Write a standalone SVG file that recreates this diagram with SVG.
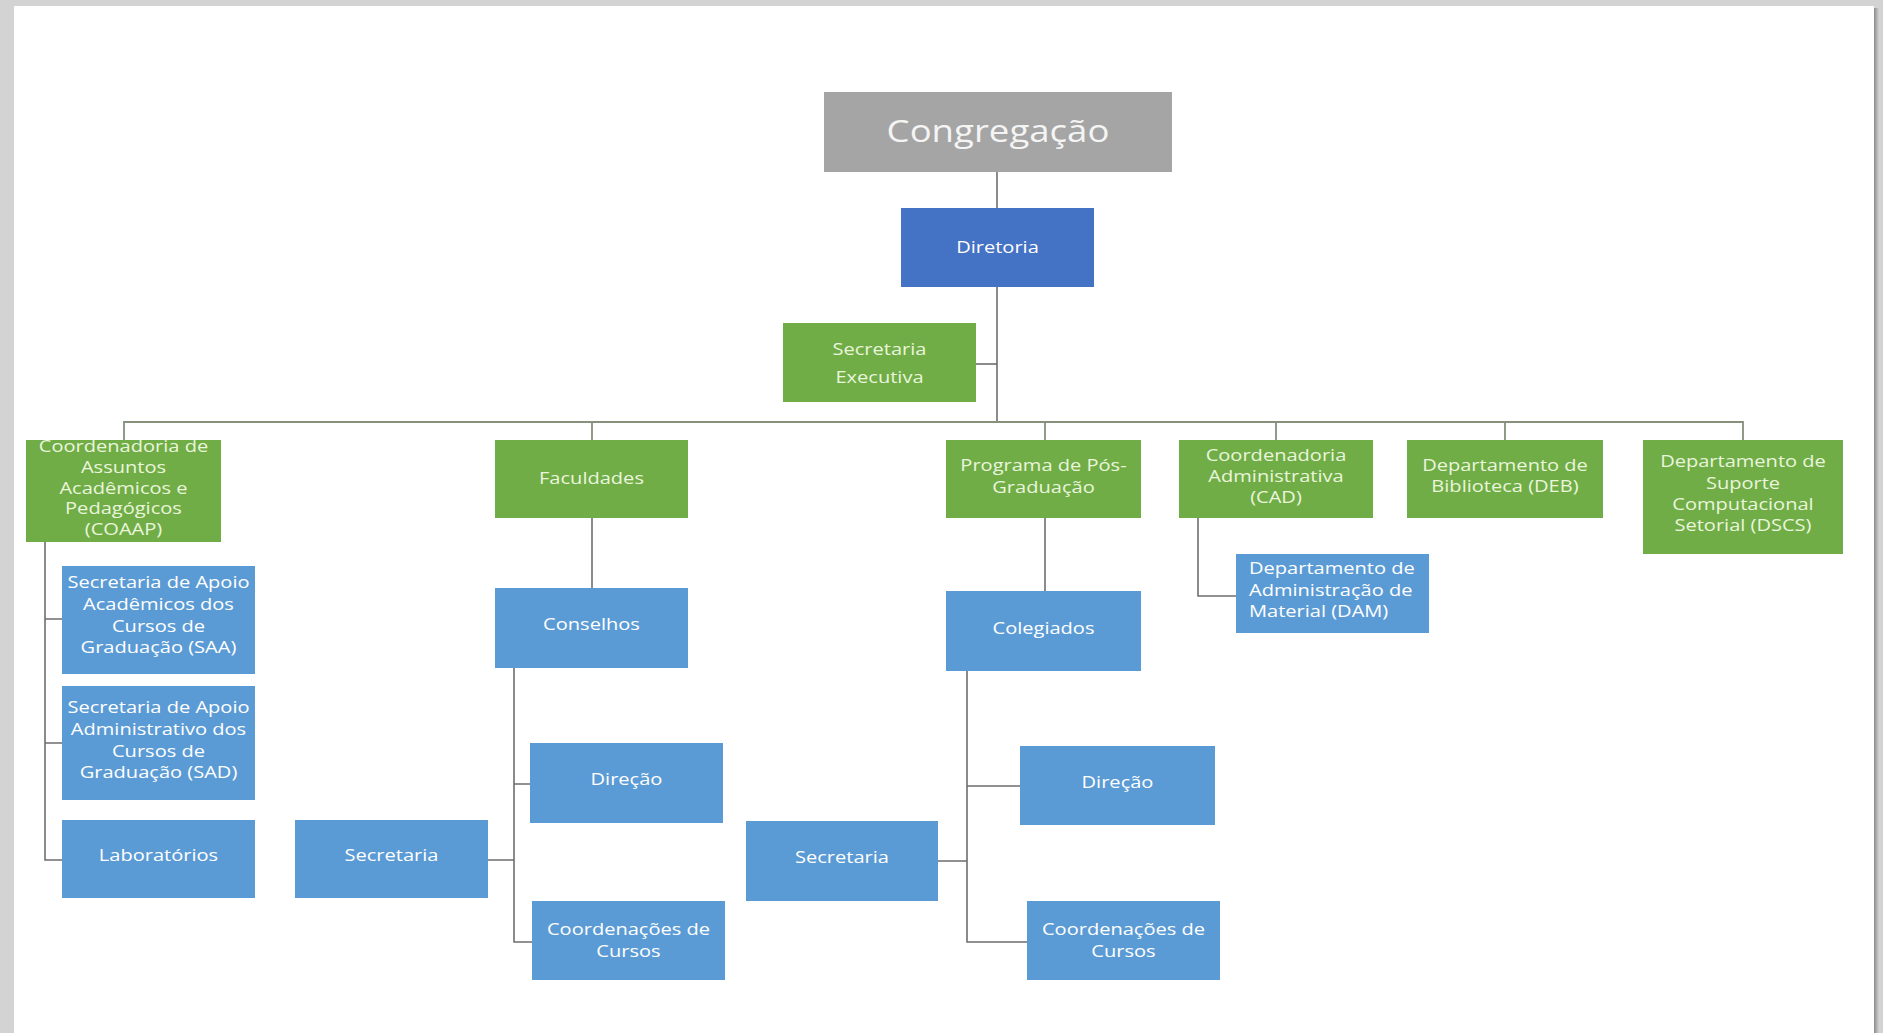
<svg xmlns="http://www.w3.org/2000/svg" width="1883" height="1033" viewBox="0 0 1883 1033">
<defs>
<linearGradient id="shadow" x1="0" y1="0" x2="1" y2="0">
<stop offset="0" stop-color="#8a8a8a"/>
<stop offset="1" stop-color="#d3d3d3"/>
</linearGradient>
</defs>
<style>
.gray{fill:#a5a5a5}
.dblue{fill:#4472c4}
.green{fill:#70ad47}
.blue{fill:#5b9bd5}
.t{font-family:"Open Sans","Noto Sans",sans-serif;font-size:17px;text-anchor:middle;transform-box:fill-box;transform-origin:center;transform:scaleX(1.18)}
.tl{font-family:"Open Sans","Noto Sans",sans-serif;font-size:17px;text-anchor:start;transform-box:fill-box;transform-origin:left;transform:scaleX(1.18)}
.onG{fill:#eaf5dc}
.onB{fill:#ffffff}
.big{font-size:31px;fill:#f4f4f4}
.ln{stroke:#6e6e6e;stroke-width:1.6;fill:none}
.bar{stroke:#85917b;stroke-width:1.8;fill:none}
</style>
<rect x="0" y="0" width="1883" height="1033" fill="#d3d3d3"/>
<rect x="1874" y="8" width="5" height="1025" fill="url(#shadow)"/>
<rect x="14" y="6" width="1860" height="1027" fill="#ffffff"/>

<g id="connectors">
<path class="ln" d="M997 172V208"/>
<path class="ln" d="M997 287V422"/>
<path class="ln" d="M976 364H997"/>
<path class="bar" d="M124 440V422H1743V440"/>
<path class="bar" d="M592 422V440M1045 422V440M1276 422V440M1505 422V440"/>
<path class="ln" d="M45 542V860H62M45 619H62M45 743H62"/>
<path class="ln" d="M592 518V588"/>
<path class="ln" d="M514 668V942H532M514 784H530M488 860H514"/>
<path class="ln" d="M1045 518V591"/>
<path class="ln" d="M967 671V942H1027M967 786H1020M938 861H967"/>
<path class="ln" d="M1198 518V596H1236"/>
</g>

<g id="congregacao">
<rect class="gray" x="824" y="92" width="348" height="80"/>
<text class="t big" x="998" y="142">Congregação</text>
</g>
<g id="diretoria">
<rect class="dblue" x="901" y="208" width="193" height="79"/>
<text class="t onB" x="997.5" y="253">Diretoria</text>
</g>
<g id="secretaria-executiva">
<rect class="green" x="783" y="323" width="193" height="79"/>
<text class="t onG" x="879.5" y="355">Secretaria</text>
<text class="t onG" x="879.5" y="383">Executiva</text>
</g>

<g id="coaap">
<rect class="green" x="26" y="440" width="195" height="102"/>
<text class="t onG" x="123.5" y="452">Coordenadoria de</text>
<text class="t onG" x="123.5" y="473">Assuntos</text>
<text class="t onG" x="123.5" y="494">Acadêmicos e</text>
<text class="t onG" x="123.5" y="514">Pedagógicos</text>
<text class="t onG" x="123.5" y="535">(COAAP)</text>
</g>
<g id="faculdades">
<rect class="green" x="495" y="440" width="193" height="78"/>
<text class="t onG" x="591.5" y="484">Faculdades</text>
</g>
<g id="programa-pos">
<rect class="green" x="946" y="440" width="195" height="78"/>
<text class="t onG" x="1043.5" y="471">Programa de Pós-</text>
<text class="t onG" x="1043.5" y="493">Graduação</text>
</g>
<g id="cad">
<rect class="green" x="1179" y="440" width="194" height="78"/>
<text class="t onG" x="1276" y="461">Coordenadoria</text>
<text class="t onG" x="1276" y="482">Administrativa</text>
<text class="t onG" x="1276" y="503">(CAD)</text>
</g>
<g id="deb">
<rect class="green" x="1407" y="440" width="196" height="78"/>
<text class="t onG" x="1505" y="471">Departamento de</text>
<text class="t onG" x="1505" y="492">Biblioteca (DEB)</text>
</g>
<g id="dscs">
<rect class="green" x="1643" y="440" width="200" height="114"/>
<text class="t onG" x="1743" y="467">Departamento de</text>
<text class="t onG" x="1743" y="489">Suporte</text>
<text class="t onG" x="1743" y="510">Computacional</text>
<text class="t onG" x="1743" y="531">Setorial (DSCS)</text>
</g>
<g id="dam">
<rect class="blue" x="1236" y="554" width="193" height="79"/>
<text class="tl onB" x="1249" y="574">Departamento de</text>
<text class="tl onB" x="1249" y="596">Administração de</text>
<text class="tl onB" x="1249" y="617">Material (DAM)</text>
</g>

<g id="saa">
<rect class="blue" x="62" y="566" width="193" height="108"/>
<text class="t onB" x="158.5" y="588">Secretaria de Apoio</text>
<text class="t onB" x="158.5" y="610">Acadêmicos dos</text>
<text class="t onB" x="158.5" y="632">Cursos de</text>
<text class="t onB" x="158.5" y="653">Graduação (SAA)</text>
</g>
<g id="sad">
<rect class="blue" x="62" y="686" width="193" height="114"/>
<text class="t onB" x="158.5" y="713">Secretaria de Apoio</text>
<text class="t onB" x="158.5" y="735">Administrativo dos</text>
<text class="t onB" x="158.5" y="757">Cursos de</text>
<text class="t onB" x="158.5" y="778">Graduação (SAD)</text>
</g>
<g id="laboratorios">
<rect class="blue" x="62" y="820" width="193" height="78"/>
<text class="t onB" x="158.5" y="861">Laboratórios</text>
</g>

<g id="conselhos">
<rect class="blue" x="495" y="588" width="193" height="80"/>
<text class="t onB" x="591.5" y="630">Conselhos</text>
</g>
<g id="direcao-fac">
<rect class="blue" x="530" y="743" width="193" height="80"/>
<text class="t onB" x="626.5" y="785">Direção</text>
</g>
<g id="secretaria-fac">
<rect class="blue" x="295" y="820" width="193" height="78"/>
<text class="t onB" x="391.5" y="861">Secretaria</text>
</g>
<g id="coordenacoes-fac">
<rect class="blue" x="532" y="901" width="193" height="79"/>
<text class="t onB" x="628.5" y="935">Coordenações de</text>
<text class="t onB" x="628.5" y="957">Cursos</text>
</g>

<g id="colegiados">
<rect class="blue" x="946" y="591" width="195" height="80"/>
<text class="t onB" x="1043.5" y="634">Colegiados</text>
</g>
<g id="direcao-pos">
<rect class="blue" x="1020" y="746" width="195" height="79"/>
<text class="t onB" x="1117.5" y="788">Direção</text>
</g>
<g id="secretaria-pos">
<rect class="blue" x="746" y="821" width="192" height="80"/>
<text class="t onB" x="842" y="863">Secretaria</text>
</g>
<g id="coordenacoes-pos">
<rect class="blue" x="1027" y="901" width="193" height="79"/>
<text class="t onB" x="1123.5" y="935">Coordenações de</text>
<text class="t onB" x="1123.5" y="957">Cursos</text>
</g>
</svg>
